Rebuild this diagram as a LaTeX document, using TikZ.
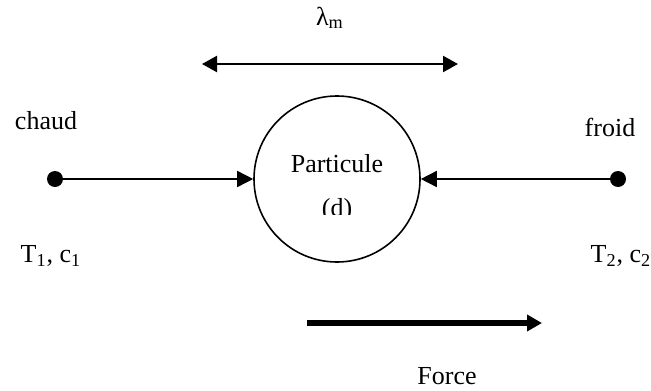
\documentclass[tikz,border=0pt]{standalone}
\usepackage{fontspec}
\setmainfont{Liberation Serif}
\usetikzlibrary{arrows.meta}

\begin{document}
\begin{tikzpicture}[
  x=0.5pt, y=-0.5pt,
  every node/.style={font=\fontsize{13}{15}\selectfont},
  dot/.style={circle, fill=black, inner sep=0pt, minimum size=8pt},
  particlebox/.style={circle, draw=black, line width=0.8pt, inner sep=0pt, minimum size=83pt},
  arrow/.style={-{Triangle[length=8pt, width=8pt]}, line width=0.8pt},
  dblarrow/.style={{Triangle[length=7.5pt, width=8pt]}-{Triangle[length=7.5pt, width=8pt]}, line width=1.2pt},
  forcearrow/.style={-{Triangle[length=7.5pt, width=8pt]}, line width=2.6pt}
]
\useasboundingbox (0,0) rectangle (651,390);

\node[dot] (hot) at (55,179) {};
\node[dot] (cold) at (618,179) {};
\node[particlebox] (particle) at (337,179) {};

\node (chaud) at (46,121) {chaud};
\node (froid) at (610,127) {froid};
\node (hotlabel) at (51,256) {T\textsubscript{1}, c\textsubscript{1}};
\node (coldlabel) at (621,256) {T\textsubscript{2}, c\textsubscript{2}};

% text inside the particle, cut at the bottom
\node (name) at (337,164) {Particule};
\begin{scope}
  \clip (290,190) rectangle (390,214);
  \node (size) at (337,210) {(d)};
\end{scope}

\draw[arrow] (hot) -- (particle.west);
\draw[arrow] (cold) -- (particle.east);

% mean free path
\coordinate (lamL) at (202,64);
\coordinate (lamR) at (458,64);
\draw[dblarrow] (lamL) -- (lamR);
\node (lambda) at (330,18) {λ\textsubscript{m}};

% force
\coordinate (forceL) at (307,323);
\coordinate (forceR) at (542,323);
\draw[forcearrow] (forceL) -- (forceR);
\node (force) at (447,376) {Force};

\end{tikzpicture}
\end{document}
